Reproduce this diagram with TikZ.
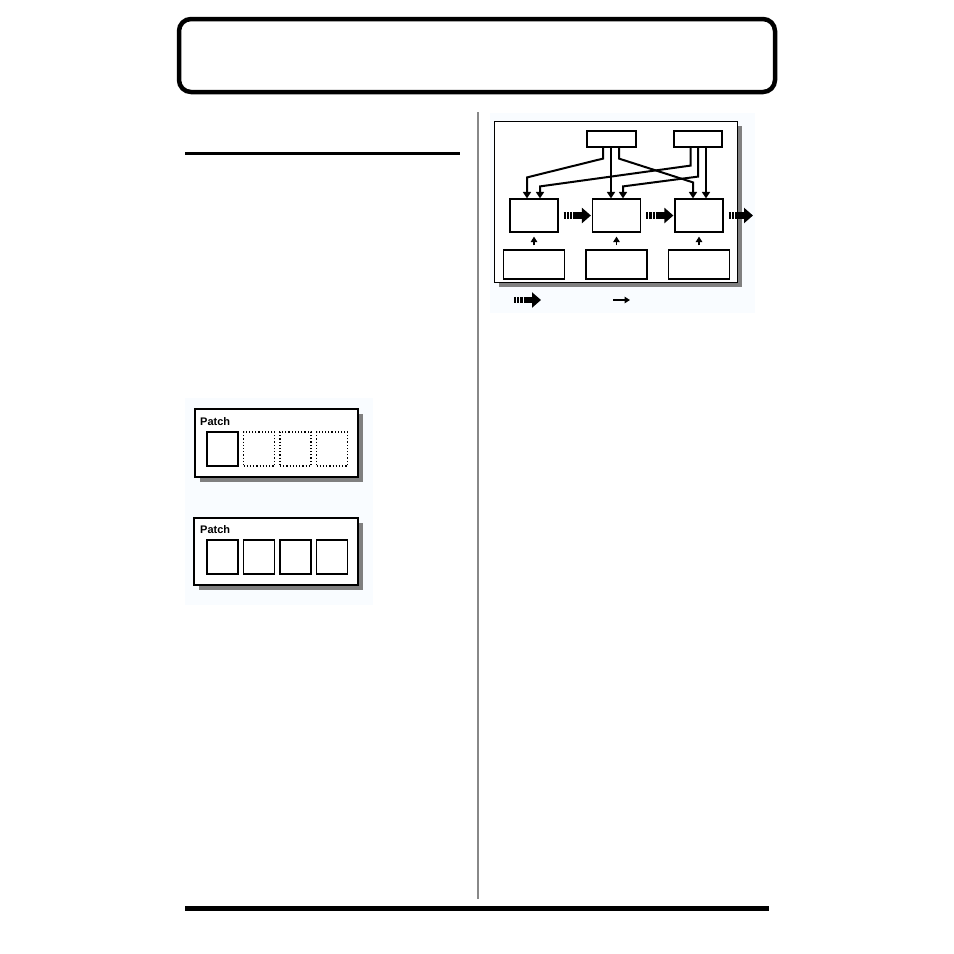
\documentclass[tikz,border=0pt]{standalone}
\usepackage{fontspec}
\setsansfont{Liberation Sans}
\usetikzlibrary{arrows.meta,shadows}
\definecolor{tint}{RGB}{249,252,255}
\definecolor{rulegray}{RGB}{136,136,136}

\begin{document}
\begin{tikzpicture}[x=1pt,y=-1pt,
  frame/.style={draw, line width=1.5pt, fill=white, inner sep=0pt,
    drop shadow={shadow xshift=4.5pt, shadow yshift=-4.5pt, fill=black!50, opacity=1}},
  sysframe/.style={frame, line width=1.2pt},
  blk/.style={draw, line width=1.2pt, fill=white, inner sep=0pt},
  slot/.style={blk, minimum width=31pt, minimum height=34pt},
  ghost/.style={slot, dotted, line width=1.1pt},
  ctl/.style={line width=2pt, -{Triangle[length=6.5pt,width=8pt]}},
  feed/.style={line width=1.6pt, -{Triangle[length=5.5pt,width=6.5pt]}, shorten <=4pt, shorten >=4pt},
  fatflow/.style={line width=6.5pt,
    dash pattern=on 2.2pt off 1pt on 2.2pt off 1pt on 2.2pt off 1pt on 60pt,
    -{Triangle[length=9pt,width=15pt]}},
  label/.style={font=\sffamily\bfseries\fontsize{11}{13}\selectfont, inner sep=0pt, anchor=base west}]
  \useasboundingbox (0,0) rectangle (954,954);

  % page frame
  \node[draw, line width=4.5pt, rounded corners=12pt, minimum width=596pt,
    minimum height=73pt] (title) at (477,55.5) {};
  \draw[line width=3pt] (185,153.5) -- (460,153.5);
  \draw[rulegray, line width=2pt] (478,112) -- (478,899);
  \draw[line width=4.5pt] (185,908.5) -- (769,908.5);

  \fill[tint] (185,398) rectangle (373,605);
  \fill[tint] (490,113) rectangle (755,313);

  % patch, one active
  \node[frame, minimum width=163pt, minimum height=68pt] (patchA) at (276.5,443) {};
  \node[label] at (200,425) {Patch};
  \node[slot, line width=1.5pt] (a1) at (222.5,449) {};
  \foreach \i/\x in {2/259,3/295.5,4/332}
    \node[ghost] (a\i) at (\x,449) {};

  % patch, all active
  \node[frame, minimum width=164pt, minimum height=67pt] (patchB) at (276,551.5) {};
  \node[label] at (200,533) {Patch};
  \foreach \i/\x in {1/222.5,2/259,3/295.5,4/332}
    \node[slot] (b\i) at (\x,557) {};

  % signal chain
  \node[sysframe, minimum width=243pt, minimum height=161pt] (sys) at (616,202) {};
  \node[blk, minimum width=49pt, minimum height=16pt] (ctlA) at (611.5,139) {};
  \node[blk, minimum width=48pt, minimum height=16pt] (ctlB) at (698,139) {};
  \foreach \i/\x in {1/534,2/616.5,3/699} {
    \node[blk, minimum width=48pt, minimum height=33pt] (fx\i) at (\x,215.5) {};
    \node[blk, minimum width=61pt, minimum height=29pt] (src\i) at (\x,264.5) {};
    \draw[feed] (src\i.north) -- (fx\i.south);
  }

  \draw[ctl] ([xshift=-8.5pt]ctlA.south) -- ++(0,11)
    -- ([xshift=-7pt,yshift=21pt]fx1.north) -- ([xshift=-7pt]fx1.north);
  \draw[ctl] ([xshift=-0.5pt]ctlA.south) -- ([xshift=-5.5pt]fx2.north);
  \draw[ctl] ([xshift=7.5pt]ctlA.south) -- ++(0,11)
    -- ([xshift=-6pt,yshift=16pt]fx3.north) -- ([xshift=-6pt]fx3.north);
  \draw[ctl] ([xshift=-7.5pt]ctlB.south) -- ++(0,18)
    -- ([xshift=6pt,yshift=12pt]fx1.north) -- ([xshift=6pt]fx1.north);
  \draw[ctl] (ctlB.south) -- ++(0,29)
    -- ([xshift=6.5pt,yshift=12pt]fx2.north) -- ([xshift=6.5pt]fx2.north);
  \draw[ctl] ([xshift=8pt]ctlB.south) -- ([xshift=7pt]fx3.north);

  \coordinate (out) at (753,215.5);
  \draw[fatflow, shorten <=5pt, shorten >=1pt] (fx1.east) -- (fx2.west);
  \draw[fatflow, shorten <=5pt, shorten >=1pt] (fx2.east) -- (fx3.west);
  \draw[fatflow, shorten <=5pt] (fx3.east) -- (out);

  % legend
  \coordinate (keyA) at (514,300);
  \coordinate (keyB) at (541,300);
  \coordinate (keyC) at (613,300);
  \coordinate (keyD) at (630,300);
  \draw[fatflow] (keyA) -- (keyB);
  \draw[line width=1.6pt, -{Triangle[length=5.5pt,width=6.5pt]}] (keyC) -- (keyD);
\end{tikzpicture}
\end{document}
